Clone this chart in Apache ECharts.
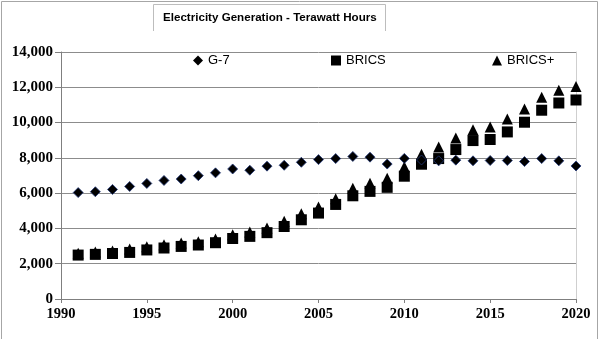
<!DOCTYPE html>
<html><head><meta charset="utf-8">
<script src="https://cdn.jsdelivr.net/npm/echarts@6/dist/echarts.min.js"></script>
<style>html,body{margin:0;padding:0;background:#fff}#c{width:600px;height:339px}</style>
</head><body><div id="c"></div>
<script>
const titleText = 'Electricity Generation - Terawatt Hours';
const years = [1991,1992,1993,1994,1995,1996,1997,1998,1999,2000,2001,2002,2003,2004,2005,2006,2007,2008,2009,2010,2011,2012,2013,2014,2015,2016,2017,2018,2019,2020];
const g7 = [6030,6080,6210,6380,6550,6720,6800,6990,7150,7370,7300,7530,7580,7750,7900,7960,8080,8040,7650,7970,7880,7830,7870,7830,7850,7850,7790,7960,7830,7540];
const brics = [2490,2530,2580,2640,2780,2890,2980,3060,3190,3430,3550,3760,4110,4490,4870,5360,5850,6100,6330,6960,7640,7960,8470,8980,9040,9470,10020,10700,11110,11280];
const bricsPlus = [2600,2660,2720,2830,2960,3070,3170,3250,3400,3640,3800,4020,4400,4830,5210,5680,6280,6560,6840,7500,8200,8620,9130,9600,9750,10200,10770,11430,11830,12040];
const seriesNames = ['G-7','BRICS','BRICS+'];
const xTicks = [1990,1995,2000,2005,2010,2015,2020];
const yTicks = [0,2000,4000,6000,8000,10000,12000,14000];

const pts = arr => years.map((y,i)=>[y,arr[i]]);
const serif = "'Liberation Serif','Times New Roman',serif";
const sans = "'Liberation Sans',Arial,sans-serif";
const legendBase = {itemWidth:10,itemHeight:10,itemGap:0,padding:0,top:54,
  itemStyle:{borderWidth:0,color:'#000'},textStyle:{fontFamily:sans,fontSize:13,color:'#000'}};
const chart = echarts.init(document.getElementById('c'), null, {renderer:'canvas'});
chart.setOption({
  backgroundColor:'#fff',
  animation:false,
  title:{text:titleText,left:163,top:12,padding:0,textStyle:{fontFamily:sans,fontSize:11.6,fontWeight:'bold',color:'#000'}},
  graphic:[
    {type:'polyline',shape:{points:[[1.5,339],[1.5,1.5],[597.5,1.5],[597.5,339]]},style:{stroke:'#a6a6a6',fill:null,lineWidth:1}},
    {type:'polyline',shape:{points:[[153.5,31],[153.5,4.5],[385.5,4.5],[385.5,31]]},style:{stroke:'#bdbdbd',fill:null,lineWidth:1}}
  ],
  legend:[
    Object.assign({data:[seriesNames[0]],left:193},legendBase),
    Object.assign({data:[seriesNames[1]],left:331},legendBase),
    Object.assign({data:[seriesNames[2]],left:492},legendBase)
  ],
  grid:{left:61,right:24,top:52,bottom:40,containLabel:false},
  xAxis:{type:'value',min:xTicks[0],max:xTicks[xTicks.length-1],interval:5,
    axisLine:{lineStyle:{color:'#7f7f7f'}},
    axisTick:{length:4,lineStyle:{color:'#7f7f7f'}},
    splitLine:{show:false},
    axisLabel:{margin:8,fontFamily:serif,fontWeight:'bold',fontSize:14.5,color:'#000',formatter:v=>String(v)}},
  yAxis:[
    {type:'value',min:yTicks[0],max:yTicks[yTicks.length-1],interval:2000,
    axisLine:{show:true,lineStyle:{color:'#7f7f7f'}},
    axisTick:{show:true,length:6,lineStyle:{color:'#7f7f7f'}},
    splitLine:{lineStyle:{color:'#8c8c8c'}},
    axisLabel:{margin:8,fontFamily:serif,fontWeight:'bold',fontSize:15,color:'#000',formatter:v=>v.toLocaleString('en-US')}},
    {type:'value',position:'right',min:yTicks[0],max:yTicks[yTicks.length-1],interval:2000,
    axisLine:{show:true,lineStyle:{color:'#cfcfcf'}},axisTick:{show:false},axisLabel:{show:false},splitLine:{show:false}}
  ],
  series:[
    {name:seriesNames[0],type:'scatter',data:pts(g7),symbol:'diamond',symbolSize:[10,10],z:4,
     itemStyle:{color:'#000',borderColor:'#243a7a',borderWidth:0.8,opacity:1}},
    {name:seriesNames[2],type:'scatter',data:pts(bricsPlus),symbol:'triangle',symbolSize:[11,11],z:2,
     itemStyle:{color:'#000',opacity:1}},
    {name:seriesNames[1],type:'scatter',data:pts(brics),symbol:'rect',symbolSize:[11,11],z:3,
     itemStyle:{color:'#000',opacity:1}}
  ]
});
</script></body></html>
